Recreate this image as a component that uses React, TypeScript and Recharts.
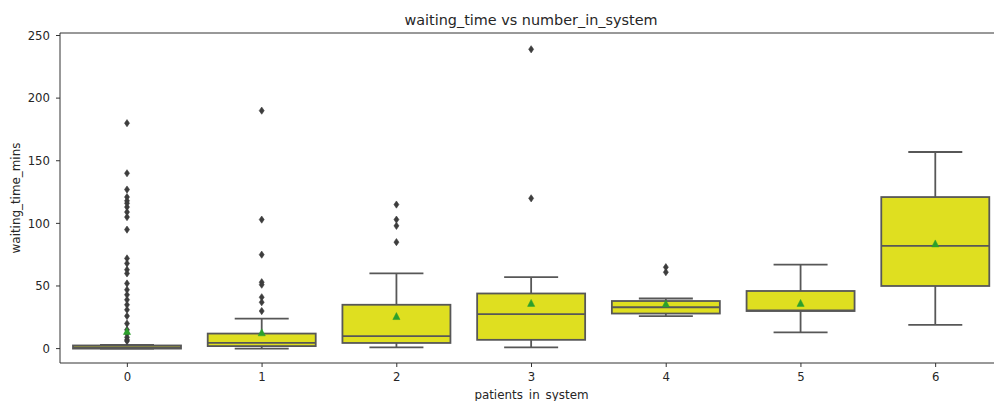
import { ComposedChart, Bar, XAxis, YAxis, ReferenceLine } from "recharts";

// box statistics per number of patients in the system
const categories = ["0", "1", "2", "3", "4", "5", "6"];
const whiskerLow = [0, 0, 1, 1, 26, 13, 19];
const quartile1 = [0, 2, 4.5, 7, 28, 30, 50];
const medians = [1, 4.5, 10, 27.5, 33, 30.5, 82];
const quartile3 = [2.5, 12, 35, 44, 38, 46, 121];
const whiskerHigh = [3, 24, 60, 57, 40, 67, 157];
const means = [14, 13, 26, 36.5, 36, 36.5, 84];
const fliers = [
  [180, 140, 127, 121, 118, 116, 113, 109, 105, 95, 72, 68, 63, 60, 52, 47, 43, 39, 35, 31, 26, 20, 15, 12, 9, 7, 6],
  [190, 103, 75, 53, 51, 41, 37, 30],
  [115, 103, 98, 85],
  [239, 120],
  [65, 61],
  [],
  [],
];
const yTicks = [0, 50, 100, 150, 200, 250];

const rows = categories.map((c, i) => ({
  cat: c,
  whislo: whiskerLow[i],
  q1: quartile1[i],
  med: medians[i],
  q3: quartile3[i],
  whishi: whiskerHigh[i],
  mean: means[i],
  fliers: fliers[i],
}));

const FONT = "'DejaVu Sans', sans-serif";
const AXIS = "#333";
const LINE = "#575757";
const FILL = "#dfdf20";
const MEAN = "#2ca02c";
const FLIER = "#3d3d3d";

// The bar spans whislo..whishi, so its pixel box gives the value->pixel ratio
function BoxShape(props: any) {
  const { x, y, width, height, payload } = props;
  const top = Math.min(y, y + height);
  const h = Math.abs(height);
  const span = payload.whishi - payload.whislo;
  const py = (v: number) => top + ((payload.whishi - v) * h) / span;
  const cx = x + width / 2;
  const cap = width / 4;
  const yq1 = py(payload.q1);
  const yq3 = py(payload.q3);
  const ym = py(payload.mean);
  return (
    <g>
      <rect x={x} y={yq3} width={width} height={Math.max(yq1 - yq3, 0.5)} fill={FILL} stroke={LINE} strokeWidth={1.8} />
      <line x1={cx} x2={cx} y1={yq3} y2={py(payload.whishi)} stroke={LINE} strokeWidth={1.8} />
      <line x1={cx} x2={cx} y1={yq1} y2={py(payload.whislo)} stroke={LINE} strokeWidth={1.8} />
      <line x1={cx - cap} x2={cx + cap} y1={py(payload.whishi)} y2={py(payload.whishi)} stroke={LINE} strokeWidth={1.8} />
      <line x1={cx - cap} x2={cx + cap} y1={py(payload.whislo)} y2={py(payload.whislo)} stroke={LINE} strokeWidth={1.8} />
      <line x1={x} x2={x + width} y1={py(payload.med)} y2={py(payload.med)} stroke={LINE} strokeWidth={1.8} />
      {payload.fliers.map((v: number, k: number) => {
        const fy = py(v);
        return (
          <polygon
            key={k}
            points={`${cx},${fy - 3.6} ${cx + 2.5},${fy} ${cx},${fy + 3.6} ${cx - 2.5},${fy}`}
            fill={FLIER}
            stroke={FLIER}
            strokeWidth={0.6}
          />
        );
      })}
      <polygon
        points={`${cx},${ym - 3.5} ${cx + 3.6},${ym + 3.5} ${cx - 3.6},${ym + 3.5}`}
        fill={MEAN}
        stroke={MEAN}
        strokeWidth={0.5}
      />
    </g>
  );
}

export default function App() {
  const tick = { fontSize: 11.7, fill: "#262626", fontFamily: FONT };
  return (
    <div style={{ position: "absolute", left: 0, top: 0, width: 994, height: 401, overflow: "hidden", background: "#fff" }}>
      <ComposedChart width={1010} height={401} data={rows} margin={{ top: 33, right: 7, bottom: 0, left: 0 }}>
        <XAxis
          dataKey="cat"
          type="category"
          height={38}
          tick={tick}
          tickSize={4}
          tickMargin={6}
          axisLine={{ stroke: AXIS, strokeWidth: 1 }}
          tickLine={{ stroke: AXIS }}
        />
        <YAxis
          type="number"
          domain={[-11.5, 252]}
          ticks={yTicks}
          allowDataOverflow
          width={60}
          tick={tick}
          tickSize={4}
          tickMargin={6}
          axisLine={{ stroke: AXIS, strokeWidth: 1 }}
          tickLine={{ stroke: AXIS }}
        />
        <ReferenceLine y={252} stroke={AXIS} strokeWidth={1} />
        <Bar
          dataKey={(d: any) => [d.whislo, d.whishi]}
          barSize={108}
          shape={(p: any) => <BoxShape {...p} />}
          isAnimationActive={false}
        />
      </ComposedChart>
      <svg width={994} height={401} style={{ position: "absolute", left: 0, top: 0, pointerEvents: "none" }}>
        <text x={531} y={25} textAnchor="middle" fontSize={14.4} fontFamily={FONT} fill="#262626">
          waiting_time vs number_in_system
        </text>
        <text x={531.5} y={399} textAnchor="middle" fontSize={11.9} fontFamily={FONT} fill="#262626">
          patients_in_system
        </text>
        <text transform="translate(19.5,198) rotate(-90)" textAnchor="middle" fontSize={11.9} fontFamily={FONT} fill="#262626">
          waiting_time_mins
        </text>
      </svg>
    </div>
  );
}
